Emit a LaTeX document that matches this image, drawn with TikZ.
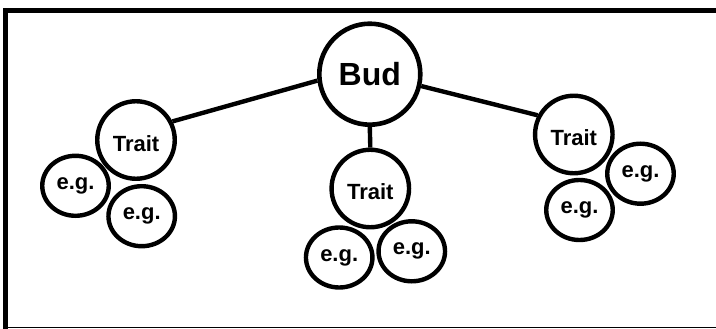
\documentclass[tikz,border=0pt]{standalone}
\usepackage{fontspec}
\setmainfont{Liberation Sans}
\usetikzlibrary{shapes.geometric}
\begin{document}
\begin{tikzpicture}[x=1pt,y=-1pt,
  budnode/.style={circle,draw,line width=4.6pt,minimum size=101pt,inner sep=0pt,
    font=\bfseries\fontsize{32}{36}\selectfont},
  traitnode/.style={circle,draw,line width=4.4pt,minimum size=77.5pt,inner sep=0pt,
    font=\bfseries\fontsize{22}{25}\selectfont,text height=22.8pt,text depth=0pt},
  egnode/.style={ellipse,draw,line width=4.4pt,minimum width=66.5pt,minimum height=60pt,
    inner sep=0pt,font=\bfseries\fontsize{22}{26}\selectfont},
  link/.style={line width=4.4pt},
  framethick/.style={line width=5pt,line join=miter},
  framethin/.style={line width=1pt}]
\useasboundingbox (0,0) rectangle (716,329);
\coordinate (fbl) at (5.2,329);
\coordinate (ftl) at (5.2,10.8);
\coordinate (ftr) at (716,10.8);
\coordinate (bl) at (3,327.7);
\coordinate (br) at (716,327.7);
\draw[framethick] (fbl) -- (ftl) -- (ftr);
\draw[framethin] (bl) -- (br);

\node[budnode] (bud) at (369.8,74.2) {Bud};
\node[traitnode] (t1) at (136,140) {Trait};
\node[traitnode] (t2) at (370.3,188.5) {Trait};
\node[traitnode] (t3) at (573.8,134.5) {Trait};
\node[egnode] (e1) at (75.5,185.8) {e.g.};
\node[egnode] (e2) at (141.7,216.2) {e.g.};
\node[egnode] (e3) at (339.2,257.5) {e.g.};
\node[egnode] (e4) at (411.8,251.3) {e.g.};
\node[egnode] (e5) at (640.5,173.7) {e.g.};
\node[egnode] (e6) at (579.5,210) {e.g.};

\draw[link] (bud.187) -- (t1.27);
\draw[link] (bud.-13.4) -- (t3.152);
\draw[link] (bud.south) -- (t2.north);
\end{tikzpicture}
\end{document}
